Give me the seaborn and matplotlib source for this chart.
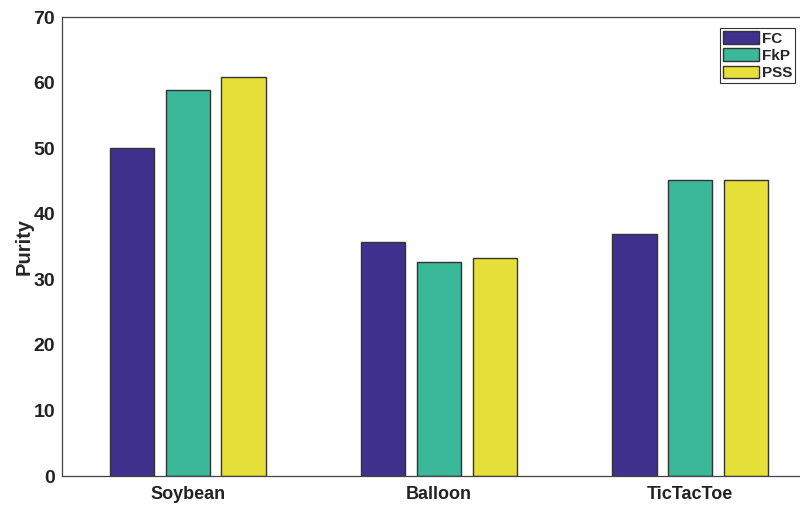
import pandas as pd
import matplotlib
matplotlib.use('Agg')
import matplotlib.pyplot as plt
import seaborn as sns

datasets = ['Soybean', 'Balloon', 'TicTacToe']
methods = ['FC', 'FkP', 'PSS']
fc = [50.0, 35.7, 36.9]
fkp = [58.9, 32.7, 45.1]
pss = [60.9, 33.2, 45.1]
colors = ['#41318f', '#3bb89a', '#e8e03a']

rows = []
for m, vals in zip(methods, [fc, fkp, pss]):
    for d, v in zip(datasets, vals):
        rows.append({'Dataset': d, 'Method': m, 'Purity': v})
df = pd.DataFrame(rows)

sns.set_style('white')
plt.rcParams['font.family'] = ['Liberation Sans', 'DejaVu Sans']
plt.rcParams['font.weight'] = 'bold'

fig = plt.figure(figsize=(8, 5.07), dpi=100)
ax = fig.add_axes([0.0775, 0.061, 0.9425, 0.905])
sns.barplot(data=df, x='Dataset', y='Purity', hue='Method', order=datasets,
            hue_order=methods, palette=colors, width=0.667, gap=0.21,
            edgecolor='#333333', linewidth=1.0, saturation=1, ax=ax)

ax.set_xlim(-0.5, 2.5)
ax.set_ylim(0, 70)
ax.set_yticks(range(0, 71, 10))
ax.set_xlabel('')
ax.set_ylabel('Purity', fontsize=14.5, fontweight='bold', labelpad=0)
ax.yaxis.set_label_coords(-0.037, 0.5)
ax.tick_params(axis='y', direction='in', labelsize=14, length=5, width=0.8,
               color='#444444', pad=5)
ax.tick_params(axis='x', length=0, pad=7, labelsize=13)
for lab in ax.get_xticklabels() + ax.get_yticklabels():
    lab.set_fontweight('bold')
    lab.set_color('#222222')
for s in ax.spines.values():
    s.set_color('#444444')
    s.set_linewidth(0.9)

leg = ax.legend(loc='upper right', bbox_to_anchor=(795 / 800, 1 - 28 / 507),
                bbox_transform=fig.transFigure, frameon=True, fancybox=False,
                fontsize=11, handlelength=2.4, handleheight=0.9,
                borderpad=0.2, labelspacing=0.18, handletextpad=0.15,
                borderaxespad=0)
leg.get_frame().set_edgecolor('black')
leg.get_frame().set_linewidth(0.8)
for t in leg.get_texts():
    t.set_fontweight('bold')

fig.savefig('out.png', dpi=100)
